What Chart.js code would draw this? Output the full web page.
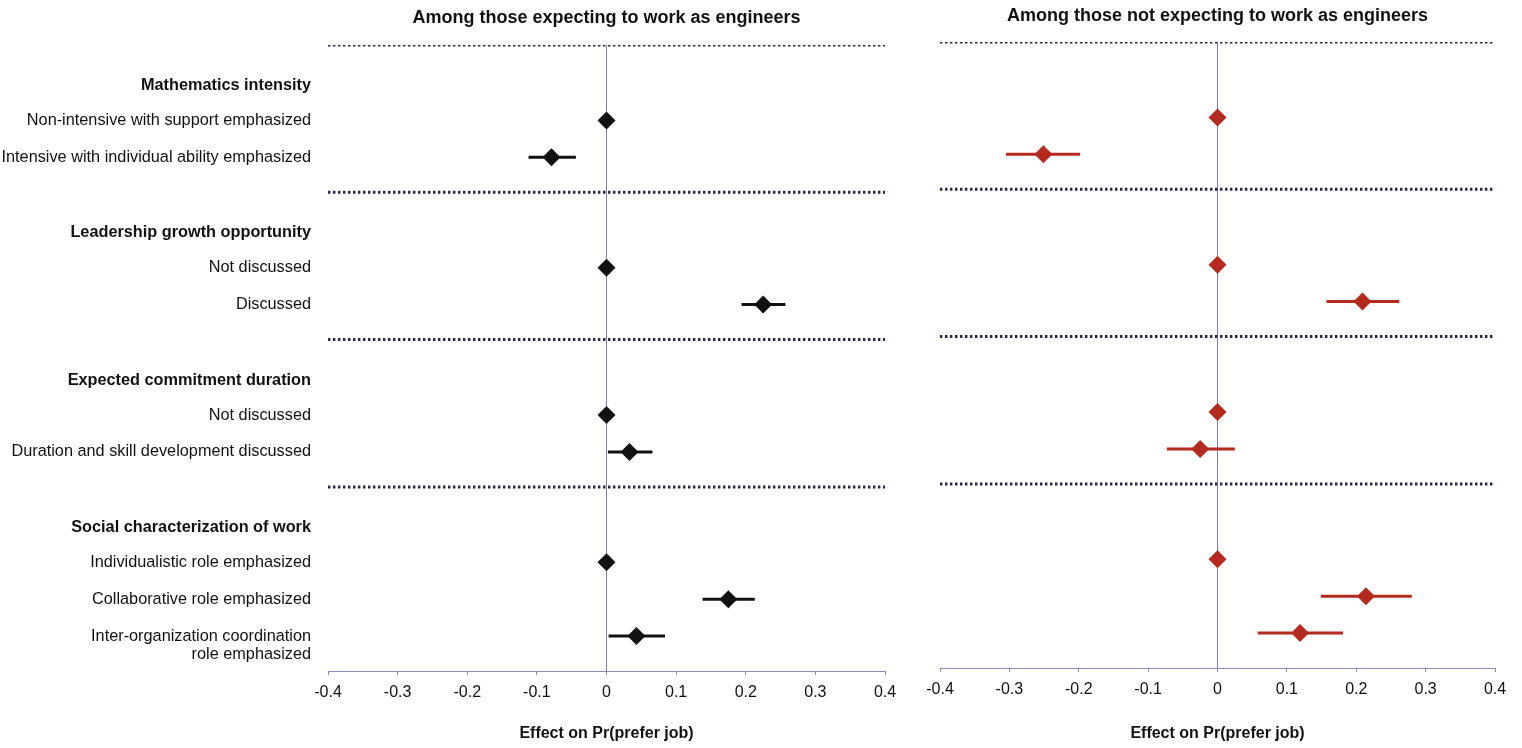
<!DOCTYPE html>
<html>
<head>
<meta charset="utf-8">
<script src="https://cdn.jsdelivr.net/npm/chart.js@4.4.1/dist/chart.umd.min.js"></script>
<style>
  body { margin: 0; background: #fff; }
  #left { position: absolute; left: 0; top: 0; }
  #right { position: absolute; left: 900px; top: 0; }
</style>
</head>
<body>
<canvas id="left" width="900" height="748"></canvas>
<canvas id="right" width="622" height="748"></canvas>
<script>
// categories
var groupTitles = ['Mathematics intensity', 'Leadership growth opportunity', 'Expected commitment duration', 'Social characterization of work'];
var groupPos = [1.1, 5.1, 9.1, 13.1];
var rowLabels = [
    'Non-intensive with support emphasized',
    'Intensive with individual ability emphasized',
    'Not discussed',
    'Discussed',
    'Not discussed',
    'Duration and skill development discussed',
    'Individualistic role emphasized',
    'Collaborative role emphasized',
    ['Inter-organization coordination', 'role emphasized']
];
var rowPos = [2.05, 3.05, 6.05, 7.05, 10.05, 11.05, 14.05, 15.05, 16.05];
var separatorPos = [0, 4, 8, 12];
var xTicks = [-0.4, -0.3, -0.2, -0.1, 0, 0.1, 0.2, 0.3, 0.4];

// effects, engineers
var engEst = [0, -0.079, 0, 0.225, 0, 0.033, 0, 0.175, 0.043];
var engLo  = [null, -0.112, null, 0.194, null, 0.002, null, 0.138, 0.003];
var engHi  = [null, -0.044, null, 0.257, null, 0.066, null, 0.213, 0.084];

// effects, not engineers
var nonEst = [0, -0.251, 0, 0.209, 0, -0.025, 0, 0.214, 0.119];
var nonLo  = [null, -0.305, null, 0.157, null, -0.073, null, 0.149, 0.058];
var nonHi  = [null, -0.198, null, 0.262, null, 0.025, null, 0.280, 0.181];

var FONT = '"Liberation Sans", Arial, sans-serif';

// y tick list: headers + rows (second line of the last label gets its own tick)
var yTickPos = [], yTickText = [], yTickBold = [];
groupTitles.forEach(function(t, i) { yTickPos.push(groupPos[i]); yTickText.push(t); yTickBold.push(true); });
rowLabels.forEach(function(t, i) {
    if (Array.isArray(t)) {
        t.forEach(function(line, j) { yTickPos.push(rowPos[i] + j * 0.5); yTickText.push(line); yTickBold.push(false); });
    } else {
        yTickPos.push(rowPos[i]); yTickText.push(t); yTickBold.push(false);
    }
});

function buildDatasets(est, lo, hi, color) {
    var ds = [];
    ds.push({
        type: 'scatter',
        data: est.map(function(v, i) { return {x: v, y: rowPos[i]}; }),
        pointStyle: 'rectRot',
        pointRadius: 9,
        backgroundColor: color,
        borderColor: color,
        borderWidth: 0,
        order: 0
    });
    est.forEach(function(v, i) {
        if (lo[i] === null) return;
        ds.push({
            type: 'line',
            data: [{x: lo[i], y: rowPos[i]}, {x: hi[i], y: rowPos[i]}],
            borderColor: color,
            borderWidth: 3,
            pointRadius: 0,
            order: 1
        });
    });
    separatorPos.forEach(function(p) {
        ds.push({
            type: 'line',
            data: [{x: -0.4, y: p}, {x: 0.4, y: p}],
            borderColor: '#24244e',
            borderWidth: 3,
            borderDash: [2.4, 2.6],
            pointRadius: 0,
            order: 2
        });
    });
    return ds;
}

function makeChart(id, est, lo, hi, color, title, opts) {
    return new Chart(document.getElementById(id), {
        type: 'scatter',
        data: { datasets: buildDatasets(est, lo, hi, color) },
        options: {
            responsive: false,
            animation: false,
            layout: { padding: opts.padding },
            plugins: { legend: { display: false }, tooltip: { enabled: false } },
            scales: {
                x: {
                    type: 'linear',
                    min: -0.4, max: 0.4,
                    afterBuildTicks: function(scale) { scale.ticks = xTicks.map(function(v) { return {value: v}; }); },
                    afterFit: function(scale) {
                        scale.height = 748 - opts.bottom;
                        scale.paddingLeft = 0;
                        scale.paddingRight = 0;
                    },
                    border: { display: true, color: '#8a8ab4', width: 1 },
                    grid: {
                        color: function(ctx) { return ctx.tick && ctx.tick.value === 0 ? '#7c7cb0' : 'rgba(0,0,0,0)'; },
                        tickColor: '#8a8aa8',
                        tickLength: 4,
                        lineWidth: 1
                    },
                    ticks: {
                        padding: 8,
                        color: '#111',
                        font: { family: FONT, size: 16 },
                        callback: function(v) { return v === 0 ? '0' : v.toFixed(1); }
                    },
                    title: {
                        display: true,
                        text: 'Effect on Pr(prefer job)',
                        color: '#111',
                        font: { family: FONT, size: 16, weight: 'bold' },
                        padding: { top: 0, bottom: 5 }
                    }
                },
                x2: {
                    type: 'linear',
                    position: 'top',
                    afterFit: function(scale) {
                        scale.height = opts.top;
                        scale.paddingLeft = 0;
                        scale.paddingRight = 0;
                    },
                    grid: { display: false },
                    border: { display: false },
                    ticks: { display: false },
                    title: {
                        display: true,
                        text: title,
                        color: '#111',
                        font: { family: FONT, size: 18, weight: 'bold' },
                        padding: { top: opts.titleTop, bottom: 0 }
                    }
                },
                y: {
                    type: 'linear',
                    display: opts.showLabels,
                    min: 0, max: 17,
                    reverse: true,
                    afterBuildTicks: function(scale) { scale.ticks = yTickPos.map(function(v) { return {value: v}; }); },
                    afterFit: function(scale) { scale.width = opts.yWidth; },
                    grid: { display: false },
                    border: { display: false },
                    ticks: {
                        autoSkip: false,
                        padding: 9,
                        color: '#111',
                        font: function(ctx) { return { family: FONT, size: 16.3, weight: yTickBold[ctx.index] ? 'bold' : 'normal' }; },
                        callback: function(v, i) { return yTickText[i]; }
                    }
                }
            }
        }
    });
}

makeChart('left', engEst, engLo, engHi, '#111111', 'Among those expecting to work as engineers',
    { padding: { left: 0, right: 15, top: 0, bottom: 0 }, top: 45, bottom: 671, titleTop: 7, yWidth: 328, showLabels: true });
makeChart('right', nonEst, nonLo, nonHi, '#b52a1e', 'Among those not expecting to work as engineers',
    { padding: { left: 40, right: 27, top: 0, bottom: 0 }, top: 42, bottom: 668, titleTop: 5, yWidth: 0, showLabels: false });
</script>
</body>
</html>
